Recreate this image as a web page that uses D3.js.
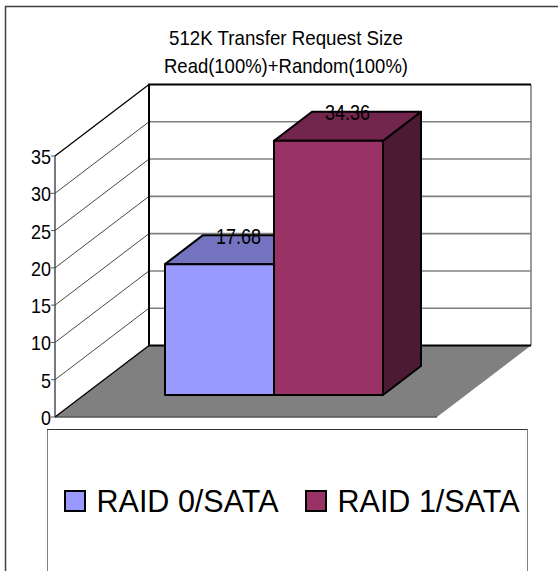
<!DOCTYPE html>
<html>
<head>
<meta charset="utf-8">
<script src="https://cdn.jsdelivr.net/npm/d3@7"></script>
<style>
  html, body { margin: 0; padding: 0; background: #fff; }
  svg { display: block; }
  text { font-family: "Liberation Sans", Arial, sans-serif; fill: #000; }
</style>
</head>
<body>
<div id="chart"></div>
<script>
const seriesNames = ['RAID 0/SATA', 'RAID 1/SATA'];
const seriesValues = [17.68, 34.36];
const seriesLabels = ['17.68', '34.36'];
const yTicks = [0, 5, 10, 15, 20, 25, 30, 35];
const titleLines = ['512K Transfer Request Size', 'Read(100%)+Random(100%)'];

const width = 558, height = 571;

const svg = d3.select('#chart').append('svg')
  .attr('width', width)
  .attr('height', height)
  .attr('viewBox', [0, 0, width, height]);

// 3d box: front wall edge, plus the shift to the back wall
const depthX = 94, depthY = -71.5;
const floorLeft = 55, floorRight = 437;

const y = d3.scaleLinear().domain([0, 35]).range([417, 156]);
const x = d3.scaleBand().domain(seriesNames).range([165, 383]);
const colour = d3.scaleOrdinal().domain(seriesNames).range(['#9999ff', '#993366']);

const barBase = 395;
const barDepthX = 38, barDepthY = -29;
const barHeight = d3.scaleLinear().domain([0, 35]).range([0, 259]);

const pts = a => a.map(p => p.join(',')).join(' ');

// outer frame, right and bottom are cut off in the picture
svg.append('path')
  .attr('d', `M5.5,${height}V6.5H${width}`)
  .attr('fill', 'none')
  .attr('stroke', '#404040')
  .attr('stroke-width', 1.5);

// walls
const walls = svg.append('g').attr('id', 'walls');

walls.append('polygon')
  .attr('points', pts([
    [floorLeft, y(0)], [floorRight, y(0)],
    [floorRight + depthX, y(0) + depthY], [floorLeft + depthX, y(0) + depthY]
  ]))
  .attr('fill', '#808080');

walls.append('line')
  .attr('x1', floorLeft).attr('x2', floorRight)
  .attr('y1', y(0)).attr('y2', y(0))
  .attr('stroke', '#555')
  .attr('stroke-width', 1.5);

walls.selectAll('.grid-back')
  .data(yTicks.filter(d => d > 0 && d < 35))
  .join('line')
  .attr('class', 'grid-back')
  .attr('x1', floorLeft + depthX).attr('x2', floorRight + depthX)
  .attr('y1', d => y(d) + depthY).attr('y2', d => y(d) + depthY)
  .attr('stroke', '#808080')
  .attr('stroke-width', 1.6);

walls.selectAll('.grid-side')
  .data(yTicks)
  .join('line')
  .attr('class', 'grid-side')
  .attr('x1', floorLeft).attr('x2', floorLeft + depthX)
  .attr('y1', d => y(d)).attr('y2', d => y(d) + depthY)
  .attr('stroke', d => d === 0 || d === 35 ? '#000' : '#333')
  .attr('stroke-width', d => d === 0 || d === 35 ? 1.3 : 0.9);

walls.append('line')
  .attr('x1', floorRight + depthX).attr('x2', floorRight + depthX)
  .attr('y1', y(35) + depthY).attr('y2', y(0) + depthY)
  .attr('stroke', '#808080')
  .attr('stroke-width', 1.6);

// back wall edges
walls.append('path')
  .attr('d', `M${floorRight + depthX},${y(35) + depthY}H${floorLeft + depthX}V${y(0) + depthY}H${floorRight + depthX}`)
  .attr('fill', 'none')
  .attr('stroke', '#000')
  .attr('stroke-width', 2);

// axis
const axis = svg.append('g').attr('id', 'y-axis');

axis.append('line')
  .attr('x1', floorLeft).attr('x2', floorLeft)
  .attr('y1', y(35)).attr('y2', y(0))
  .attr('stroke', '#333')
  .attr('stroke-width', 1.3);

axis.selectAll('.tick-mark')
  .data(yTicks)
  .join('line')
  .attr('class', 'tick-mark')
  .attr('x1', floorLeft - 4).attr('x2', floorLeft)
  .attr('y1', d => y(d)).attr('y2', d => y(d))
  .attr('stroke', '#555');

axis.selectAll('text')
  .data(yTicks)
  .join('text')
  .attr('x', floorLeft - 4)
  .attr('y', d => y(d) + 8)
  .attr('text-anchor', 'end')
  .attr('font-size', 21)
  .attr('textLength', d => d < 10 ? 10 : 20)
  .attr('lengthAdjust', 'spacingAndGlyphs')
  .text(d => d);

// bars
const bars = svg.append('g').attr('id', 'bars')
  .selectAll('g')
  .data(seriesNames.map((name, i) => ({ name, value: seriesValues[i], label: seriesLabels[i] })))
  .join('g');

const barStroke = sel => sel.attr('stroke', '#000').attr('stroke-width', 2).attr('stroke-linejoin', 'round');
const barTop = d => barBase - barHeight(d.value);

bars.append('polygon')
  .attr('points', d => pts([
    [x(d.name) + x.bandwidth(), barTop(d)],
    [x(d.name) + x.bandwidth() + barDepthX, barTop(d) + barDepthY],
    [x(d.name) + x.bandwidth() + barDepthX, barBase + barDepthY],
    [x(d.name) + x.bandwidth(), barBase]
  ]))
  .attr('fill', d => d3.interpolateRgb(colour(d.name), '#000')(0.5))
  .call(barStroke);

bars.append('polygon')
  .attr('points', d => pts([
    [x(d.name), barTop(d)],
    [x(d.name) + barDepthX, barTop(d) + barDepthY],
    [x(d.name) + x.bandwidth() + barDepthX, barTop(d) + barDepthY],
    [x(d.name) + x.bandwidth(), barTop(d)]
  ]))
  .attr('fill', d => d3.interpolateRgb(colour(d.name), '#000')(0.25))
  .call(barStroke);

bars.append('rect')
  .attr('x', d => x(d.name))
  .attr('y', d => barTop(d))
  .attr('width', x.bandwidth())
  .attr('height', d => barHeight(d.value))
  .attr('fill', d => colour(d.name))
  .call(barStroke);

bars.append('text')
  .attr('x', d => x(d.name) + x.bandwidth() / 2 + barDepthX / 2)
  .attr('y', d => barTop(d) + barDepthY + 8.5)
  .attr('text-anchor', 'middle')
  .attr('font-size', 22)
  .attr('textLength', 45)
  .attr('lengthAdjust', 'spacingAndGlyphs')
  .text(d => d.label);

// title
svg.append('g').attr('id', 'title')
  .selectAll('text')
  .data(titleLines)
  .join('text')
  .attr('x', 286)
  .attr('y', (d, i) => 45 + i * 28)
  .attr('text-anchor', 'middle')
  .attr('font-size', 21)
  .attr('textLength', (d, i) => i === 0 ? 234 : 244)
  .attr('lengthAdjust', 'spacingAndGlyphs')
  .text(d => d);

// legend, bottom edge is cut off as well
const legend = svg.append('g').attr('id', 'legend');

legend.append('path')
  .attr('d', `M47.5,${height}V429.5H527.5V${height}`)
  .attr('fill', '#fff')
  .attr('stroke', '#808080');

legend.append('line')
  .attr('x1', 47).attr('x2', 527.5)
  .attr('y1', 429.5).attr('y2', 429.5)
  .attr('stroke', '#333');

const legendX = d3.scaleOrdinal().domain(seriesNames).range([65, 306]);

legend.selectAll('rect')
  .data(seriesNames)
  .join('rect')
  .attr('x', d => legendX(d))
  .attr('y', 491)
  .attr('width', 20)
  .attr('height', 20)
  .attr('fill', d => colour(d))
  .attr('stroke', '#000')
  .attr('stroke-width', 2);

legend.selectAll('text')
  .data(seriesNames)
  .join('text')
  .attr('x', d => legendX(d) + 31.5)
  .attr('y', 512)
  .attr('font-size', 32)
  .attr('textLength', 182)
  .attr('lengthAdjust', 'spacingAndGlyphs')
  .text(d => d);
</script>
</body>
</html>
